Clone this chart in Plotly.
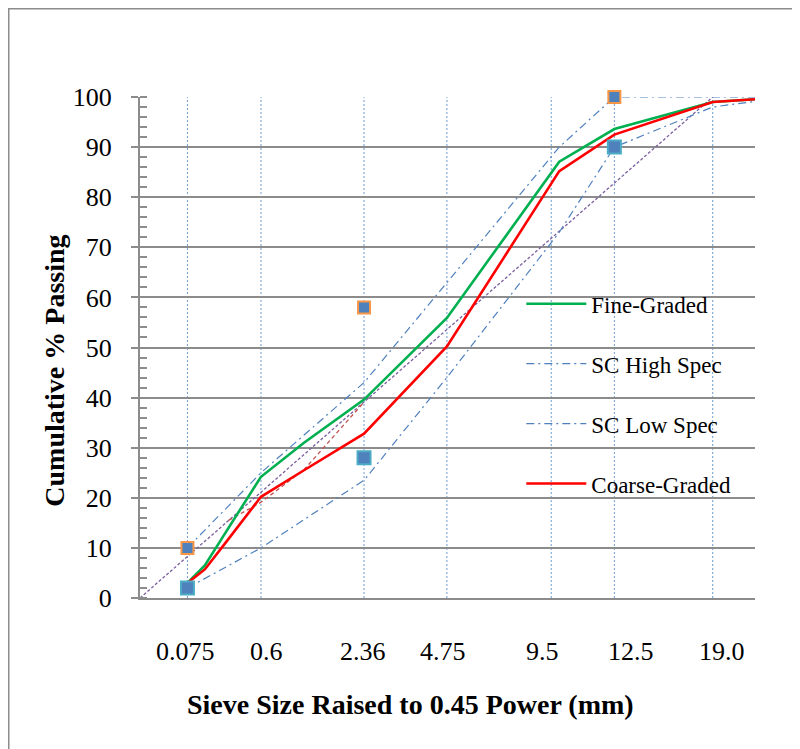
import numpy as np
import plotly.graph_objects as go

# ---------------- data ----------------
SIEVES = [0.075, 0.15, 0.3, 0.6, 1.18, 2.36, 4.75, 9.5, 12.5, 19.0, 25.0]
FINE_GRADED = [3.0, 6.5, 14.0, 24.2, 31.0, 39.6, 55.9, 87.1, 93.6, 99.0, 100.0]
COARSE_GRADED = [3.0, 5.7, 11.8, 20.2, 25.5, 32.8, 50.2, 85.2, 92.5, 99.0, 100.0]

SPEC_SIEVES = [0.075, 0.6, 2.36, 4.75, 9.5, 12.5, 19.0, 25.0]
SC_HIGH = [10.0, 25.0, 43.0, 63.0, 90.0, 100.0, 100.0, 100.0]
SC_LOW = [2.0, 10.0, 23.5, 44.0, 73.0, 90.0, 98.0, 100.0]

MAXD_SIEVES = [0.0, 19.0]
MAX_DENSITY = [0.0, 100.0]

RZ_SIEVES = [0.3, 0.6, 1.18, 2.36]
RZ_LOWER = [15.5, 19.1, 25.6, 39.1]

CP_SIEVES = [0.075, 2.36, 12.5]
CP_UPPER = [10.0, 58.0, 100.0]
CP_LOWER = [2.0, 28.0, 90.0]

X_TICK_LABELS = ["0.075", "0.6", "2.36", "4.75", "9.5", "12.5", "19.0"]
Y_TICKS = list(range(0, 101, 10))

POWER = 0.45


def px45(s):
    return np.power(np.asarray(s, dtype=float), POWER)


# ---------------- layout constants ----------------
W, H = 800, 749
L, R, T, B = 132, 53, 89, 158.5
PW, PH = W - L - R, H - T - B
X_RANGE = [0, 4.04]
GRID_SIEVES = [0.075, 0.6, 2.36, 4.75, 9.1, 12.5, 19.0]  # vertical dotted guides
LABEL_X = [0.302, 0.834, 1.465, 1.991, 2.641, 3.226, 3.824]  # label centres (x units)
SERIF = "Liberation Serif, Times New Roman, serif"
GRID_GRAY = "#8c8c8c"
BLUE = "#4f81bd"
DASHDOT = "8px,4px,2px,4px"

fig = go.Figure()

fig.add_trace(go.Scatter(
    x=px45(MAXD_SIEVES), y=MAX_DENSITY, mode="lines",
    line=dict(color="#7a5fa0", width=1.3, dash="3px,2px"),
    showlegend=False, hoverinfo="skip"))

fig.add_trace(go.Scatter(
    x=px45(RZ_SIEVES), y=RZ_LOWER, mode="lines",
    line=dict(color="#c0504d", width=1.3, dash="4px,3px"),
    showlegend=False, hoverinfo="skip"))

fig.add_trace(go.Scatter(
    x=px45(SIEVES), y=FINE_GRADED, mode="lines", name="Fine-Graded",
    legendgroup="a", line=dict(color="#00b050", width=2.6)))

fig.add_trace(go.Scatter(
    x=px45(SPEC_SIEVES), y=SC_HIGH, mode="lines", name="SC High Spec",
    legendgroup="b", line=dict(color=BLUE, width=1.2, dash=DASHDOT)))

fig.add_trace(go.Scatter(
    x=px45(SPEC_SIEVES), y=SC_LOW, mode="lines", name="SC Low Spec",
    legendgroup="c", line=dict(color=BLUE, width=1.2, dash=DASHDOT)))

fig.add_trace(go.Scatter(
    x=px45(SIEVES), y=COARSE_GRADED, mode="lines", name="Coarse-Graded",
    legendgroup="d", line=dict(color="#ff0000", width=2.6)))

fig.add_trace(go.Scatter(
    x=px45(CP_SIEVES), y=CP_UPPER, mode="markers", showlegend=False,
    marker=dict(symbol="square", size=12, color=BLUE,
                line=dict(color="#f79646", width=2)),
    cliponaxis=False))

fig.add_trace(go.Scatter(
    x=px45(CP_SIEVES), y=CP_LOWER, mode="markers", showlegend=False,
    marker=dict(symbol="square", size=13, color=BLUE,
                line=dict(color="#4bacc6", width=2)),
    cliponaxis=False))

shapes = []
for g in px45(GRID_SIEVES):
    shapes.append(dict(type="line", xref="x", yref="paper", x0=g, x1=g, y0=0, y1=1,
                       line=dict(color="#6f9bd1", width=1, dash="2px,2px"), layer="below"))
# outer frame of the chart
shapes.append(dict(type="rect", xref="paper", yref="paper",
                   x0=(0.75 - L) / PW, x1=(806 - L) / PW,
                   y0=(H - B - 760) / PH, y1=(H - B - 0.75) / PH,
                   line=dict(color="#8c8c8c", width=1.5), fillcolor="rgba(0,0,0,0)"))

annotations = []
for lx, txt in zip(LABEL_X, X_TICK_LABELS):
    annotations.append(dict(x=lx, xref="x", y=-0.107, yref="paper", text=txt,
                            showarrow=False, xanchor="center", yanchor="middle",
                            font=dict(family=SERIF, size=26, color="#000")))
annotations.append(dict(x=(402 - L) / PW, xref="paper", y=(H - B - 697) / PH, yref="paper",
                        text="<b>Sieve Size Raised to 0.45 Power (mm)</b>", showarrow=False,
                        xanchor="center", yanchor="middle",
                        font=dict(family=SERIF, size=28, color="#000")))
annotations.append(dict(x=(47 - L) / PW, xref="paper", y=(H - B - 363) / PH, yref="paper",
                        text="<b>Cumulative % Passing</b>", showarrow=False, textangle=-90,
                        xanchor="center", yanchor="middle",
                        font=dict(family=SERIF, size=28, color="#000")))

fig.update_layout(
    width=W, height=H,
    margin=dict(l=L, r=R, t=T, b=B, autoexpand=False),
    paper_bgcolor="white", plot_bgcolor="white",
    shapes=shapes, annotations=annotations,
    showlegend=True,
    legend=dict(x=0.62, xanchor="left", y=0.63, yanchor="top",
                bgcolor="rgba(0,0,0,0)", font=dict(family=SERIF, size=23, color="#000"),
                tracegroupgap=27, itemwidth=60),
    xaxis=dict(range=X_RANGE, showgrid=False, zeroline=False, showticklabels=False,
               ticks="", showline=True, linecolor=GRID_GRAY, linewidth=2,
               automargin=False),
    yaxis=dict(range=[0, 100], tickvals=Y_TICKS, showgrid=True, gridcolor=GRID_GRAY,
               gridwidth=2, zeroline=False, showline=True, linecolor=GRID_GRAY, linewidth=2,
               ticks="outside", ticklen=7, tickcolor=GRID_GRAY, tickwidth=2,
               ticklabelstandoff=14,
               minor=dict(dtick=2, ticks="inside", ticklen=7, tickcolor=GRID_GRAY,
                          tickwidth=1.5, showgrid=False),
               tickfont=dict(family=SERIF, size=26, color="#000"),
               automargin=False),
)

fig.write_html("out.html")
